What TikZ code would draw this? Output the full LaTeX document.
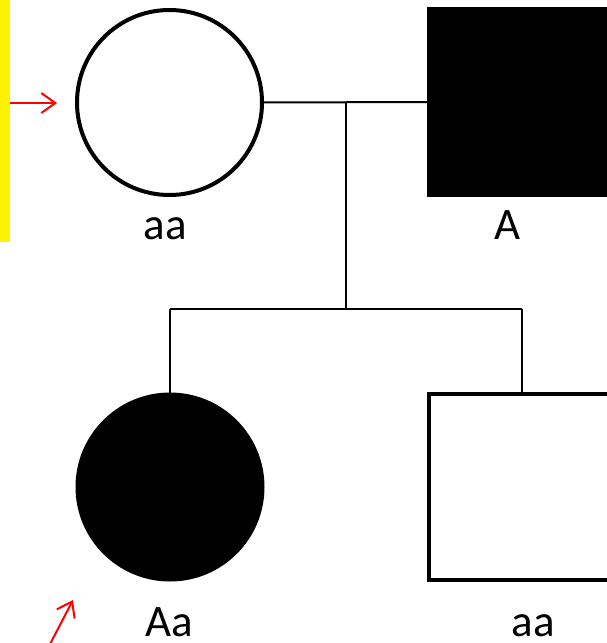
\documentclass[tikz,border=0pt]{standalone}
\usepackage{fontspec}
\setmainfont{Carlito}
\usetikzlibrary{arrows.meta}
\begin{document}
\begin{tikzpicture}[x=1pt,y=-1pt,
  female/.style={circle,draw=black,line width=4pt,minimum size=185pt,inner sep=0pt,outer sep=0pt},
  male/.style={rectangle,draw=black,line width=4pt,minimum size=186pt,inner sep=0pt,outer sep=0pt},
  affected/.style={fill=black},
  geno/.style={anchor=base,inner sep=0pt,font=\fontsize{45}{54}\selectfont},
  link/.style={line width=2pt,black},
  pointer/.style={red,line width=2pt,-{Straight Barb[length=14pt,width=20pt,line width=2pt]}}]
\clip (0,0) rectangle (607,643);
\fill[yellow] (0,0) rectangle (10,242);
% parents
\node[female,fill=white] (mother) at (169.5,102.5) {};
\node[male,affected] (father) at (522,102) {};
% children
\node[female,affected] (daughter) at (170,487) {};
\node[male,fill=white] (son) at (522,487) {};
% labels
\node[geno] (lmother) at (165,239) {aa};
\node[geno] (lfather) at (508,239) {A};
\node[geno] (ldaughter) at (169,636) {Aa};
\node[geno] (lson) at (533,636) {aa};
% connectors
\coordinate (mid) at (346,103);
\coordinate (sib) at (346,309);
\coordinate (sibL) at (170,309);
\coordinate (sibR) at (522,309);
\draw[link] (mother.east) -- (father.west);
\draw[link] (mid) -- (sib);
\draw[link] (sibL) -- (sibR);
\draw[link] (sibL) -- (daughter.north);
\draw[link] (sibR) -- (son.north);
% proband arrows
\coordinate (a1s) at (10,103);
\coordinate (a1e) at (57,103);
\coordinate (a2s) at (48,648);
\coordinate (a2e) at (73,600);
\draw[pointer] (a1s) -- (a1e);
\draw[pointer] (a2s) -- (a2e);
\end{tikzpicture}
\end{document}
